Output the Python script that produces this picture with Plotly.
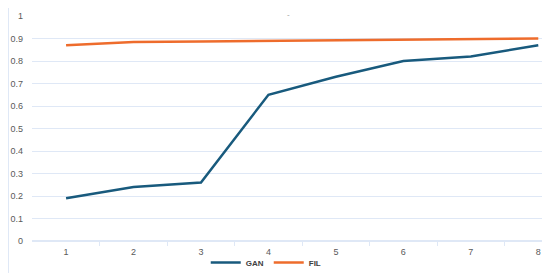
import plotly.graph_objects as go

# data
steps = [1, 2, 3, 4, 5, 6, 7, 8]
gan = [0.19, 0.24, 0.26, 0.65, 0.73, 0.80, 0.82, 0.87]
fil = [0.87, 0.885, 0.887, 0.89, 0.892, 0.894, 0.897, 0.90]
between = [1.5, 2.5, 3.5, 4.5, 5.5, 6.5, 7.5]

fig = go.Figure()
fig.add_trace(go.Scatter(x=steps, y=gan, name="GAN", mode="lines",
                         line=dict(color="#185a7d", width=2.5)))
fig.add_trace(go.Scatter(x=steps, y=fil, name="FIL", mode="lines",
                         line=dict(color="#ee6c2c", width=2.5)))
fig.add_trace(go.Scatter(x=[1], y=[None], xaxis="x2", showlegend=False, hoverinfo="skip"))

grid = "#dfe8f6"
xr = [0.495, 8.07]
# page body has an 8px margin, so the figure is 8px smaller
fig.update_layout(
    width=542, height=265,
    margin=dict(l=24, r=7, t=8, b=32, autoexpand=False),
    paper_bgcolor="white", plot_bgcolor="white",
    font=dict(family="Liberation Sans", size=9, color="#595959"),
    xaxis=dict(range=xr, tickvals=steps, showgrid=False, automargin=False,
               zeroline=False, showline=False, ticks="", ticklabelstandoff=4,
               ticklabeloverflow="allow"),
    # second x axis only carries the small marks between categories
    xaxis2=dict(range=xr, overlaying="x", side="bottom", anchor="y",
                tickvals=between, ticktext=[""] * 7, ticks="outside",
                ticklen=4, tickcolor=grid, showgrid=False, zeroline=False,
                showline=False, automargin=False),
    yaxis=dict(range=[0, 1], dtick=0.1, tickformat="~g", gridcolor=grid,
               automargin=False,
               zeroline=True, zerolinecolor=grid, ticks="", ticklabelstandoff=8),
    legend=dict(orientation="h", x=0.34, y=-0.095, xanchor="left", yanchor="middle",
                bgcolor="rgba(0,0,0,0)",
                font=dict(size=8, color="#404040", family="Liberation Sans", weight="bold"),
                itemwidth=30, tracegroupgap=0),
    showlegend=True,
)
fig.add_annotation(text="-", xref="paper", yref="paper", x=0.501, y=1.036,
                   yanchor="top", showarrow=False, font=dict(size=8, color="#999999"))
fig.add_shape(type="line", xref="paper", yref="paper", x0=-0.046, x1=-0.046,
              y0=-0.142, y1=1.036, line=dict(color=grid, width=1))

fig.write_html("out.html")
